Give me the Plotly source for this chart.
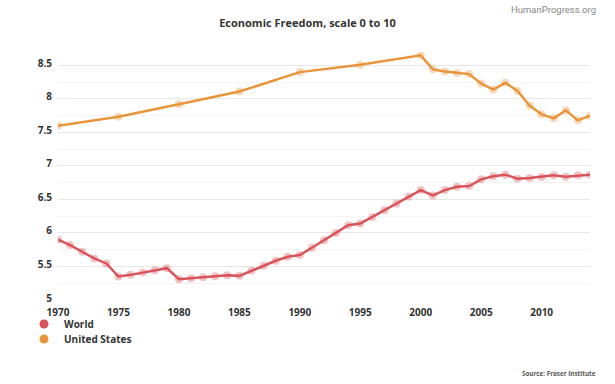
import plotly.graph_objects as go

world_years = list(range(1970, 2015))
world_values = [5.90, 5.82, 5.72, 5.62, 5.545, 5.35, 5.375, 5.41, 5.445, 5.475,
                5.31, 5.325, 5.34, 5.355, 5.37, 5.36, 5.435, 5.51, 5.585, 5.645,
                5.67, 5.78, 5.89, 6.00, 6.115, 6.14, 6.24, 6.34, 6.44, 6.54,
                6.64, 6.56, 6.64, 6.69, 6.70, 6.80, 6.845, 6.87, 6.81, 6.82,
                6.835, 6.86, 6.84, 6.86, 6.87]

us_years = [1970, 1975, 1980, 1985, 1990, 1995, 2000, 2001, 2002, 2003, 2004,
            2005, 2006, 2007, 2008, 2009, 2010, 2011, 2012, 2013, 2014]
us_values = [7.60, 7.735, 7.92, 8.11, 8.40, 8.51, 8.65, 8.44, 8.41, 8.385, 8.37,
             8.23, 8.14, 8.24, 8.12, 7.90, 7.77, 7.71, 7.83, 7.68, 7.75]

x_ticks = [1970, 1975, 1980, 1985, 1990, 1995, 2000, 2005, 2010]
y_ticks = [5, 5.5, 6, 6.5, 7, 7.5, 8, 8.5]
y_tick_labels = ["5", "5.5", "6", "6.5", "7", "7.5", "8", "8.5"]

RED = "#d9545a"
ORANGE = "#e8953c"
FONT = "Open Sans"
W, H = 615, 384

fig = go.Figure()
series = [("World", world_years, world_values, RED, "legend", 324),
          ("United States", us_years, us_values, ORANGE, "legend2", 339)]
for name, xs, ys, col, leg, _ in series:
    fig.add_trace(go.Scatter(
        x=xs, y=ys, mode="lines+markers", name=name, showlegend=False,
        line=dict(color=col, width=2.5),
        marker=dict(size=8, color=col, opacity=0.35),
        hoverinfo="x+y+name"))
    fig.add_trace(go.Scatter(
        x=[None], y=[None], mode="markers", name=name, legend=leg,
        marker=dict(size=9, color=col)))

legend_common = dict(xref="container", yref="container", x=24 / W, xanchor="left",
                     yanchor="middle", bgcolor="rgba(0,0,0,0)", borderwidth=0,
                     font=dict(family=FONT, size=10, color="#333333", weight="bold"),
                     itemwidth=30)

fig.update_layout(
    width=W, height=H,
    margin=dict(l=58, r=25, t=52, b=84, autoexpand=False),
    paper_bgcolor="white", plot_bgcolor="white",
    font=dict(family=FONT, size=10, color="#333333"),
    title=dict(text="Economic Freedom, scale 0 to 10", x=0.5, xanchor="center",
               y=1 - 23 / H, yanchor="middle",
               font=dict(family=FONT, size=11, color="#333333", weight="bold")),
    showlegend=True,
    legend=dict(y=1 - series[0][5] / H, **legend_common),
    legend2=dict(y=1 - series[1][5] / H, **legend_common),
    annotations=[
        dict(text="HumanProgress.org", xref="paper", yref="paper",
             x=(598 - 58) / 532, y=1 + 43 / 248, xanchor="right", yanchor="middle",
             showarrow=False, font=dict(family="Roboto", size=9.5, color="#888888")),
        dict(text="Source: Fraser Institute", xref="paper", yref="paper",
             x=(598 - 58) / 532, y=-73 / 248, xanchor="right", yanchor="middle",
             showarrow=False, font=dict(family=FONT, size=6.3, color="#555555", weight="bold")),
    ],
)

fig.update_xaxes(
    range=[1970, 2014], tickvals=x_ticks, ticktext=[str(v) for v in x_ticks],
    showgrid=False, zeroline=False, showline=False, automargin=False,
    tickfont=dict(family=FONT, size=10, color="#333333", weight="bold"),
    ticks="", ticklabelstandoff=5, fixedrange=True)

fig.update_yaxes(
    range=[5, 8.7], tickvals=y_ticks, ticktext=y_tick_labels,
    showgrid=True, gridcolor="#e6e6e6", gridwidth=1, zeroline=False, showline=False,
    automargin=False,
    tickfont=dict(family=FONT, size=10, color="#333333", weight="bold"),
    ticks="", ticklabelstandoff=5, ticklabelshift=-2,
    minor=dict(tickvals=[5.25, 5.75, 6.25, 6.75, 7.25, 7.75, 8.25],
               showgrid=True, gridcolor="#f3f3f3", gridwidth=1, ticks=""),
    fixedrange=True)

fig.write_html("out.html", config={"displayModeBar": False},
               post_script="document.body.style.margin='0';")
